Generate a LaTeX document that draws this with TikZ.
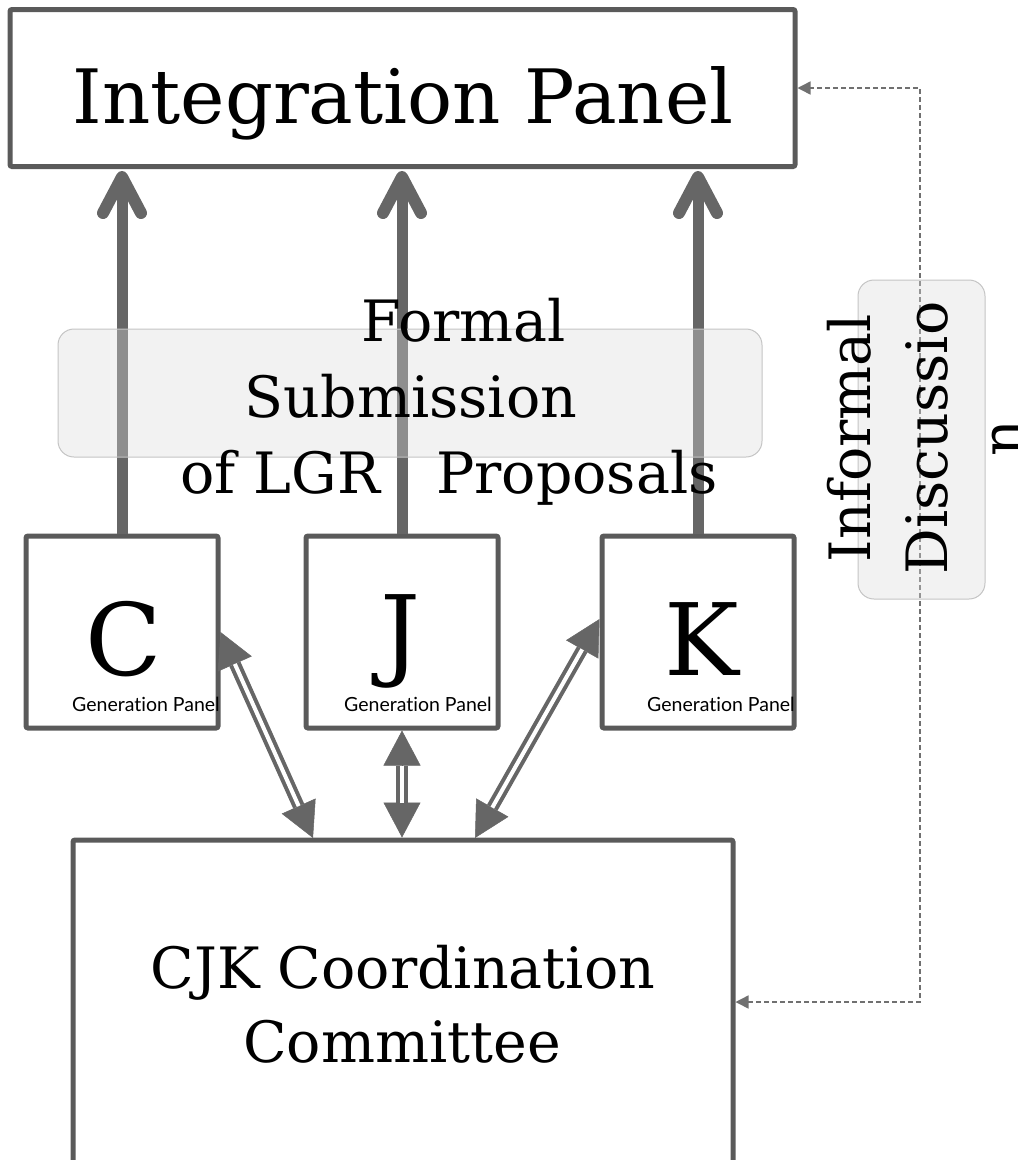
\documentclass[tikz,border=0pt]{standalone}
\usepackage{fontspec}
\setmainfont{DejaVu Serif}
\newfontfamily\gpfont[Ligatures={NoCommon}]{Lato}
\usetikzlibrary{arrows.meta,calc}
\definecolor{boxgray}{HTML}{5A5A5A}
\definecolor{arrgray}{HTML}{666666}
\definecolor{dashgray}{HTML}{707070}
\definecolor{softfill}{HTML}{DADADA}
\definecolor{softline}{HTML}{C4C4C4}
\tikzset{
  panel/.style={draw=boxgray, line width=5pt, fill=white, rounded corners=2pt, inner sep=0pt},
  softbox/.style={draw=softline, line width=1pt, fill=softfill, fill opacity=0.35, rounded corners=16pt, inner sep=0pt},
  shaft/.style={draw=arrgray, line width=11pt},
  barb/.style={draw=arrgray, line width=12pt, line cap=round, line join=round},
  headline/.style={draw=arrgray, fill=arrgray, line width=0.5pt,
    {Triangle[length=35pt,width=37pt]}-{Triangle[length=35pt,width=37pt]}},
  dbl/.style={draw=arrgray, line width=4pt, double=white, double distance=4pt,
    shorten <=35pt, shorten >=35pt},
  dashconn/.style={draw=dashgray, line width=1.5pt, dash pattern=on 5pt off 3pt,
    {Triangle[length=13pt,width=13pt]}-{Triangle[length=13pt,width=13pt]}},
  bigtxt/.style={font=\fontsize{75}{80}\selectfont, inner sep=0pt, anchor=base},
  midtxt/.style={font=\fontsize{57}{76}\selectfont, inner sep=0pt, anchor=base},
  lettertxt/.style={font=\fontsize{100}{110}\selectfont, inner sep=0pt, anchor=base},
  gptxt/.style={font=\gpfont\fontsize{19.5}{22}\selectfont, inner sep=0pt, anchor=base},
}
\begin{document}
\begin{tikzpicture}[x=1pt,y=-1pt]
\useasboundingbox (0,0) rectangle (1018,1160);
\clip (0,0) rectangle (1018,1160);

% boxes
\node[panel, minimum width=785pt, minimum height=157pt] (IP) at (402.5,88) {};
\node[panel, minimum width=192pt, minimum height=192pt] (C) at (122,632) {};
\node[panel, minimum width=192pt, minimum height=192pt] (J) at (402,632) {};
\node[panel, minimum width=192pt, minimum height=192pt] (K) at (698,632) {};
\node[panel, minimum width=660pt, minimum height=324pt] (CC) at (403,1002) {};

% thick upward arrows
\coordinate (tC) at ($(C.north |- IP.south)+(0,8)$);
\coordinate (tJ) at ($(J.north |- IP.south)+(0,8)$);
\coordinate (tK) at ($(K.north |- IP.south)+(0,8)$);
\foreach \b/\t in {C/tC, J/tJ, K/tK}{
  \draw[shaft] (\b.north) -- (\t);
  \draw[barb] ($(\t)+(-19,36)$) -- (\t) -- ($(\t)+(19,36)$);
}

% double arrows to the committee
\coordinate (cA) at (313,838);
\coordinate (kA) at (475,838);
\coordinate (kTip) at ($(K.west)+(0,-13)$);
\draw[headline] (C.east) -- (cA);
\draw[dbl] (C.east) -- (cA);
\draw[headline] (J.south) -- (J.south |- CC.north);
\draw[dbl] (J.south) -- (J.south |- CC.north);
\draw[headline] (kTip) -- (kA);
\draw[dbl] (kTip) -- (kA);

% dashed informal link
\coordinate (dX) at (920,0);
\draw[dashconn] (CC.east) -- (CC.east -| dX) -- (IP.east -| dX) -- (IP.east);

% soft label boxes
\node[softbox, minimum width=704pt, minimum height=128pt] (FS) at (410,393) {};
\node[softbox, minimum width=127pt, minimum height=319pt] (ID) at (921.5,439.5) {};

% texts
\node[bigtxt] (tIP) at (403,123) {Integration Panel};
\node[midtxt] (tF1) at (464,341) {Formal};
\node[midtxt] (tF2) at (411,417) {Submission};
\node[midtxt] (tF3) at (449,493) {of LGR\hspace{56pt}Proposals};
\node[midtxt, rotate=90] (tI1) at (870,438) {Informal};
\node[midtxt, rotate=90] (tI2) at (947,438) {Discussio};
\node[midtxt, rotate=90] (tI3) at (1022,438) {n};
\node[lettertxt] (lC) at (123.5,675) {C};
\node[lettertxt] (lJ) at (401,667) {J};
\node[lettertxt] (lK) at (702,675) {K};
\node[gptxt] (gC) at (146,711) {Generation Panel};
\node[gptxt] (gJ) at (418,711) {Generation Panel};
\node[gptxt] (gK) at (721,711) {Generation Panel};
\node[midtxt] (tC1) at (403,988) {CJK Coordination};
\node[midtxt] (tC2) at (402,1062) {Committee};
\end{tikzpicture}
\end{document}
